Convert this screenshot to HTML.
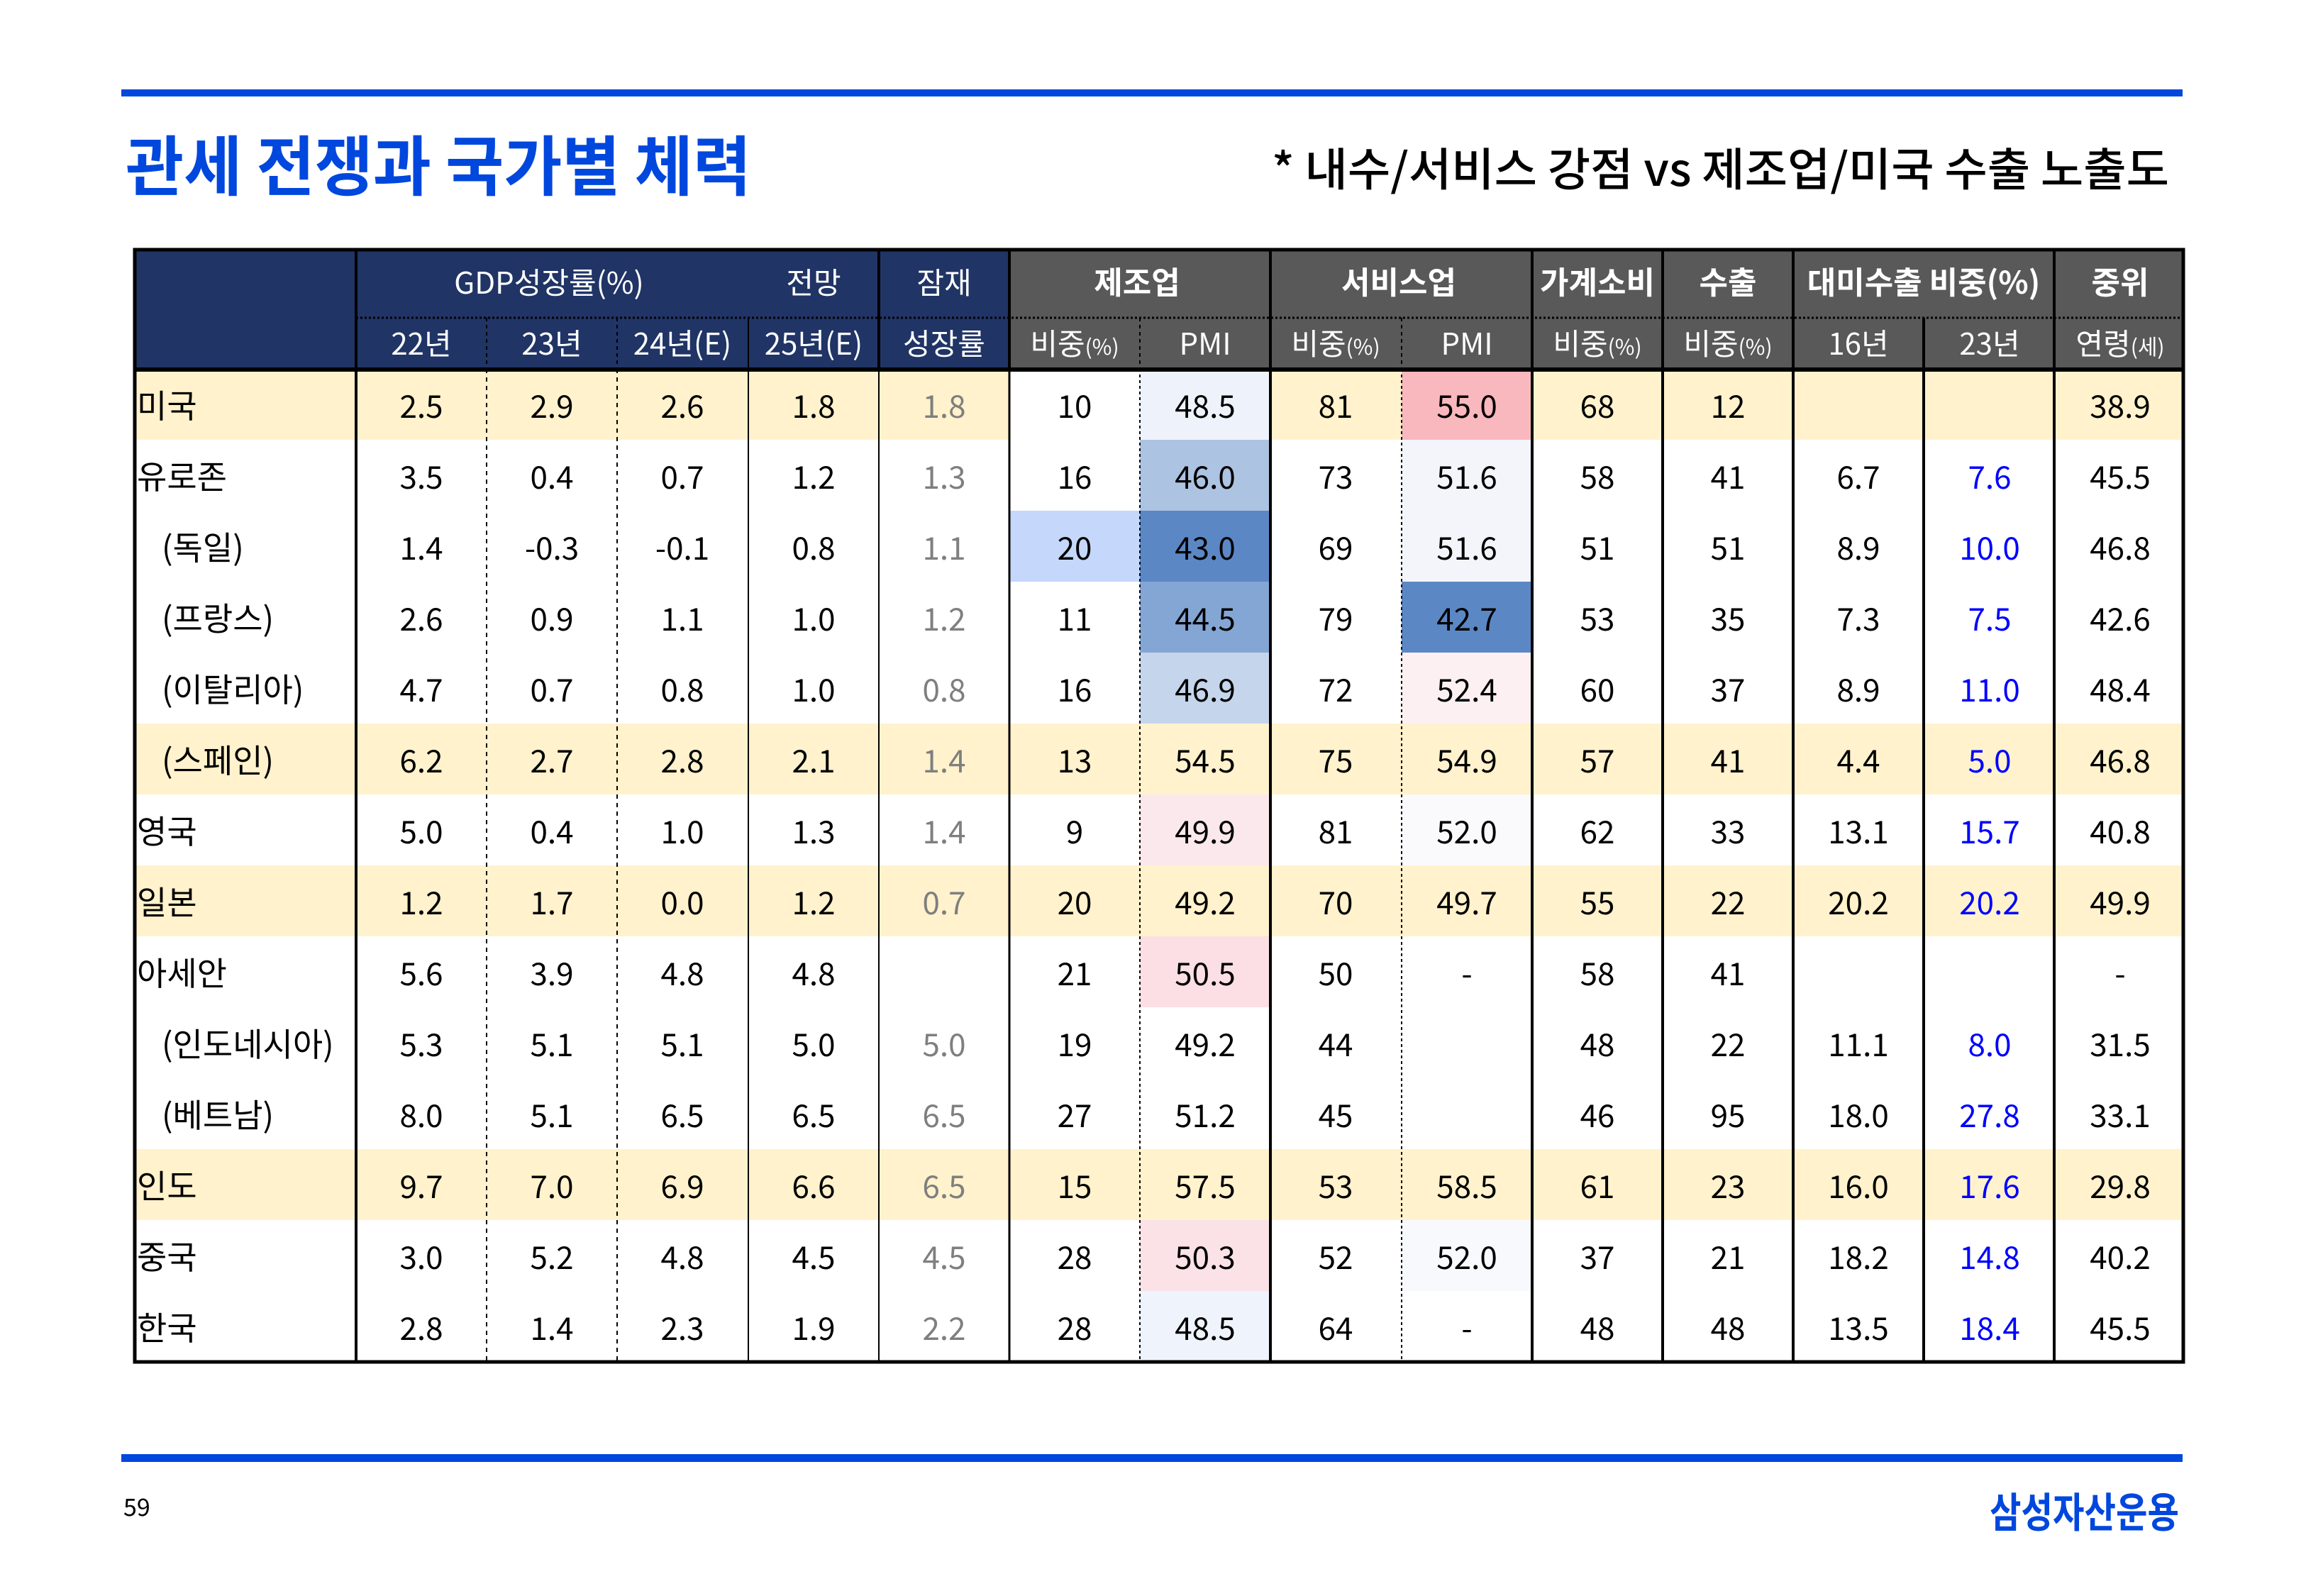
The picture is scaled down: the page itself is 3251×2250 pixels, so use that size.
<!DOCTYPE html>
<html><head><meta charset="utf-8"><style>
html,body{margin:0;padding:0;background:#fff}
svg{display:block}
text{font-family:"Noto Sans CJK KR","Liberation Sans",sans-serif}
.d text{font-size:44px;fill:#000;text-anchor:middle}
.d text.g{fill:#7f7f7f}
.d text.b{fill:#0000ff}
.d text.l{text-anchor:start;font-size:46px}
.h text{fill:#fff;text-anchor:middle;font-size:42px}
.h text.t{font-size:44px;font-weight:bold}
</style></head><body>
<svg width="3251" height="2250" viewBox="0 0 3251 2250" xmlns="http://www.w3.org/2000/svg">
<rect x="171" y="126" width="2906" height="10" fill="#0047dd"/>
<rect x="171" y="2050" width="2906" height="11" fill="#0047dd"/>
<text x="177" y="268" font-size="92" font-weight="bold" fill="#0047dd" textLength="882" lengthAdjust="spacingAndGlyphs">관세 전쟁과 국가별 체력</text>
<text x="1793" y="262" font-size="64" font-weight="500" fill="#000" textLength="1265" lengthAdjust="spacingAndGlyphs">* 내수/서비스 강점 vs 제조업/미국 수출 노출도</text>
<text x="174" y="2137" font-size="34" fill="#000">59</text>
<text x="2805" y="2153" font-size="58" font-weight="bold" fill="#0047dd" textLength="267" lengthAdjust="spacingAndGlyphs">삼성자산운용</text>

<rect x="190" y="352" width="1233" height="170" fill="#203465"/>
<rect x="1423" y="352" width="1655" height="170" fill="#595959"/>
<g fill="#fff2cc">
<rect x="190" y="520" width="2888" height="100"/>
<rect x="190" y="1020" width="2888" height="100"/>
<rect x="190" y="1220" width="2888" height="100"/>
<rect x="190" y="1620" width="2888" height="100"/>
</g>
<rect x="1423" y="520" width="184" height="100" fill="#fff"/>
<rect x="1607" y="520" width="184" height="100" fill="#eef3fb"/>
<rect x="1976" y="520" width="184" height="100" fill="#f8b8bd"/>
<rect x="1607" y="620" width="184" height="100" fill="#adc3e2"/>
<rect x="1976" y="620" width="184" height="100" fill="#f3f5fb"/>
<rect x="1423" y="720" width="184" height="100" fill="#c5d8fb"/>
<rect x="1607" y="720" width="184" height="100" fill="#5b88c5"/>
<rect x="1976" y="720" width="184" height="100" fill="#f3f5fb"/>
<rect x="1607" y="820" width="184" height="100" fill="#84a6d5"/>
<rect x="1976" y="820" width="184" height="100" fill="#5b88c5"/>
<rect x="1607" y="920" width="184" height="100" fill="#c5d5eb"/>
<rect x="1976" y="920" width="184" height="100" fill="#fcf0f2"/>
<rect x="1607" y="1120" width="184" height="100" fill="#fbe8ec"/>
<rect x="1976" y="1120" width="184" height="100" fill="#fafafd"/>
<rect x="1607" y="1320" width="184" height="100" fill="#fbdfe4"/>
<rect x="1607" y="1720" width="184" height="100" fill="#fbe2e6"/>
<rect x="1976" y="1720" width="184" height="100" fill="#f8f9fd"/>
<rect x="1607" y="1820" width="184" height="100" fill="#eff3fb"/>

<line x1="502" y1="448" x2="3078" y2="448" stroke="#000" stroke-width="3" stroke-dasharray="3,3"/>
<g stroke="#000">
<line x1="502" y1="352" x2="502" y2="520" stroke-width="4"/>
<line x1="1239" y1="352" x2="1239" y2="520" stroke-width="4"/>
<line x1="1423" y1="352" x2="1423" y2="520" stroke-width="4"/>
<line x1="1791" y1="352" x2="1791" y2="520" stroke-width="4"/>
<line x1="2160" y1="352" x2="2160" y2="520" stroke-width="4"/>
<line x1="2344" y1="352" x2="2344" y2="520" stroke-width="4"/>
<line x1="2528" y1="352" x2="2528" y2="520" stroke-width="4"/>
<line x1="2896" y1="352" x2="2896" y2="520" stroke-width="4"/>
<line x1="1055" y1="448" x2="1055" y2="520" stroke-width="2"/>
<line x1="2712" y1="448" x2="2712" y2="520" stroke-width="4"/>
<line x1="686" y1="448" x2="686" y2="520" stroke-width="2" stroke-dasharray="5,5"/>
<line x1="870" y1="448" x2="870" y2="520" stroke-width="2" stroke-dasharray="5,5"/>
<line x1="1607" y1="448" x2="1607" y2="520" stroke-width="2" stroke-dasharray="5,5"/>
<line x1="1976" y1="448" x2="1976" y2="520" stroke-width="2" stroke-dasharray="5,5"/>
</g>
<g stroke="#000">
<line x1="502" y1="520" x2="502" y2="1920" stroke-width="4"/>
<line x1="686" y1="520" x2="686" y2="1920" stroke-width="2" stroke-dasharray="6,6"/>
<line x1="870" y1="520" x2="870" y2="1920" stroke-width="2" stroke-dasharray="6,6"/>
<line x1="1055" y1="520" x2="1055" y2="1920" stroke-width="2"/>
<line x1="1239" y1="520" x2="1239" y2="1920" stroke-width="2"/>
<line x1="1423" y1="520" x2="1423" y2="1920" stroke-width="3"/>
<line x1="1607" y1="520" x2="1607" y2="1920" stroke-width="2" stroke-dasharray="4,4"/>
<line x1="1791" y1="520" x2="1791" y2="1920" stroke-width="4"/>
<line x1="1976" y1="520" x2="1976" y2="1920" stroke-width="2" stroke-dasharray="4,4"/>
<line x1="2160" y1="520" x2="2160" y2="1920" stroke-width="4"/>
<line x1="2344" y1="520" x2="2344" y2="1920" stroke-width="4"/>
<line x1="2528" y1="520" x2="2528" y2="1920" stroke-width="4"/>
<line x1="2712" y1="520" x2="2712" y2="1920" stroke-width="4"/>
<line x1="2896" y1="520" x2="2896" y2="1920" stroke-width="4"/>
</g>
<rect x="190" y="352" width="2888" height="1568" fill="none" stroke="#000" stroke-width="5"/>
<line x1="190" y1="521" x2="3078" y2="521" stroke="#000" stroke-width="6"/>

<g class="h">
<text x="774" y="414">GDP성장률(%)</text>
<text x="1147" y="414">전망</text>
<text x="1331" y="414">잠재</text>
<text x="594" y="500">22년</text>
<text x="778" y="500">23년</text>
<text x="962" y="500">24년(E)</text>
<text x="1147" y="500">25년(E)</text>
<text x="1331" y="500">성장률</text>
<text class="t" x="1603" y="414">제조업</text>
<text class="t" x="1972" y="414">서비스업</text>
<text class="t" x="2252" y="414">가계소비</text>
<text class="t" x="2436" y="414">수출</text>
<text class="t" x="2712" y="414">대미수출 비중(%)</text>
<text class="t" x="2989" y="414">중위</text>
<text x="1515" y="500">비중<tspan font-size="30">(%)</tspan></text>
<text x="1699" y="500">PMI</text>
<text x="1883" y="500">비중<tspan font-size="30">(%)</tspan></text>
<text x="2068" y="500">PMI</text>
<text x="2252" y="500">비중<tspan font-size="30">(%)</tspan></text>
<text x="2436" y="500">비중<tspan font-size="30">(%)</tspan></text>
<text x="2620" y="500">16년</text>
<text x="2805" y="500">23년</text>
<text x="2989" y="500">연령<tspan font-size="30">(세)</tspan></text>
</g>

<g class="d">
<g transform="translate(0,589)"><text class="l" x="193">미국</text><text x="594">2.5</text><text x="778">2.9</text><text x="962">2.6</text><text x="1147">1.8</text><text class="g" x="1331">1.8</text><text x="1515">10</text><text x="1699">48.5</text><text x="1883">81</text><text x="2068">55.0</text><text x="2252">68</text><text x="2436">12</text><text x="2989">38.9</text></g>
<g transform="translate(0,689)"><text class="l" x="193">유로존</text><text x="594">3.5</text><text x="778">0.4</text><text x="962">0.7</text><text x="1147">1.2</text><text class="g" x="1331">1.3</text><text x="1515">16</text><text x="1699">46.0</text><text x="1883">73</text><text x="2068">51.6</text><text x="2252">58</text><text x="2436">41</text><text x="2620">6.7</text><text class="b" x="2805">7.6</text><text x="2989">45.5</text></g>
<g transform="translate(0,789)"><text class="l" x="228">(독일)</text><text x="594">1.4</text><text x="778">-0.3</text><text x="962">-0.1</text><text x="1147">0.8</text><text class="g" x="1331">1.1</text><text x="1515">20</text><text x="1699">43.0</text><text x="1883">69</text><text x="2068">51.6</text><text x="2252">51</text><text x="2436">51</text><text x="2620">8.9</text><text class="b" x="2805">10.0</text><text x="2989">46.8</text></g>
<g transform="translate(0,889)"><text class="l" x="228">(프랑스)</text><text x="594">2.6</text><text x="778">0.9</text><text x="962">1.1</text><text x="1147">1.0</text><text class="g" x="1331">1.2</text><text x="1515">11</text><text x="1699">44.5</text><text x="1883">79</text><text x="2068">42.7</text><text x="2252">53</text><text x="2436">35</text><text x="2620">7.3</text><text class="b" x="2805">7.5</text><text x="2989">42.6</text></g>
<g transform="translate(0,989)"><text class="l" x="228">(이탈리아)</text><text x="594">4.7</text><text x="778">0.7</text><text x="962">0.8</text><text x="1147">1.0</text><text class="g" x="1331">0.8</text><text x="1515">16</text><text x="1699">46.9</text><text x="1883">72</text><text x="2068">52.4</text><text x="2252">60</text><text x="2436">37</text><text x="2620">8.9</text><text class="b" x="2805">11.0</text><text x="2989">48.4</text></g>
<g transform="translate(0,1089)"><text class="l" x="228">(스페인)</text><text x="594">6.2</text><text x="778">2.7</text><text x="962">2.8</text><text x="1147">2.1</text><text class="g" x="1331">1.4</text><text x="1515">13</text><text x="1699">54.5</text><text x="1883">75</text><text x="2068">54.9</text><text x="2252">57</text><text x="2436">41</text><text x="2620">4.4</text><text class="b" x="2805">5.0</text><text x="2989">46.8</text></g>
<g transform="translate(0,1189)"><text class="l" x="193">영국</text><text x="594">5.0</text><text x="778">0.4</text><text x="962">1.0</text><text x="1147">1.3</text><text class="g" x="1331">1.4</text><text x="1515">9</text><text x="1699">49.9</text><text x="1883">81</text><text x="2068">52.0</text><text x="2252">62</text><text x="2436">33</text><text x="2620">13.1</text><text class="b" x="2805">15.7</text><text x="2989">40.8</text></g>
<g transform="translate(0,1289)"><text class="l" x="193">일본</text><text x="594">1.2</text><text x="778">1.7</text><text x="962">0.0</text><text x="1147">1.2</text><text class="g" x="1331">0.7</text><text x="1515">20</text><text x="1699">49.2</text><text x="1883">70</text><text x="2068">49.7</text><text x="2252">55</text><text x="2436">22</text><text x="2620">20.2</text><text class="b" x="2805">20.2</text><text x="2989">49.9</text></g>
<g transform="translate(0,1389)"><text class="l" x="193">아세안</text><text x="594">5.6</text><text x="778">3.9</text><text x="962">4.8</text><text x="1147">4.8</text><text x="1515">21</text><text x="1699">50.5</text><text x="1883">50</text><text x="2068">-</text><text x="2252">58</text><text x="2436">41</text><text x="2989">-</text></g>
<g transform="translate(0,1489)"><text class="l" x="228">(인도네시아)</text><text x="594">5.3</text><text x="778">5.1</text><text x="962">5.1</text><text x="1147">5.0</text><text class="g" x="1331">5.0</text><text x="1515">19</text><text x="1699">49.2</text><text x="1883">44</text><text x="2252">48</text><text x="2436">22</text><text x="2620">11.1</text><text class="b" x="2805">8.0</text><text x="2989">31.5</text></g>
<g transform="translate(0,1589)"><text class="l" x="228">(베트남)</text><text x="594">8.0</text><text x="778">5.1</text><text x="962">6.5</text><text x="1147">6.5</text><text class="g" x="1331">6.5</text><text x="1515">27</text><text x="1699">51.2</text><text x="1883">45</text><text x="2252">46</text><text x="2436">95</text><text x="2620">18.0</text><text class="b" x="2805">27.8</text><text x="2989">33.1</text></g>
<g transform="translate(0,1689)"><text class="l" x="193">인도</text><text x="594">9.7</text><text x="778">7.0</text><text x="962">6.9</text><text x="1147">6.6</text><text class="g" x="1331">6.5</text><text x="1515">15</text><text x="1699">57.5</text><text x="1883">53</text><text x="2068">58.5</text><text x="2252">61</text><text x="2436">23</text><text x="2620">16.0</text><text class="b" x="2805">17.6</text><text x="2989">29.8</text></g>
<g transform="translate(0,1789)"><text class="l" x="193">중국</text><text x="594">3.0</text><text x="778">5.2</text><text x="962">4.8</text><text x="1147">4.5</text><text class="g" x="1331">4.5</text><text x="1515">28</text><text x="1699">50.3</text><text x="1883">52</text><text x="2068">52.0</text><text x="2252">37</text><text x="2436">21</text><text x="2620">18.2</text><text class="b" x="2805">14.8</text><text x="2989">40.2</text></g>
<g transform="translate(0,1889)"><text class="l" x="193">한국</text><text x="594">2.8</text><text x="778">1.4</text><text x="962">2.3</text><text x="1147">1.9</text><text class="g" x="1331">2.2</text><text x="1515">28</text><text x="1699">48.5</text><text x="1883">64</text><text x="2068">-</text><text x="2252">48</text><text x="2436">48</text><text x="2620">13.5</text><text class="b" x="2805">18.4</text><text x="2989">45.5</text></g>
</g>
</svg>
</body></html>
